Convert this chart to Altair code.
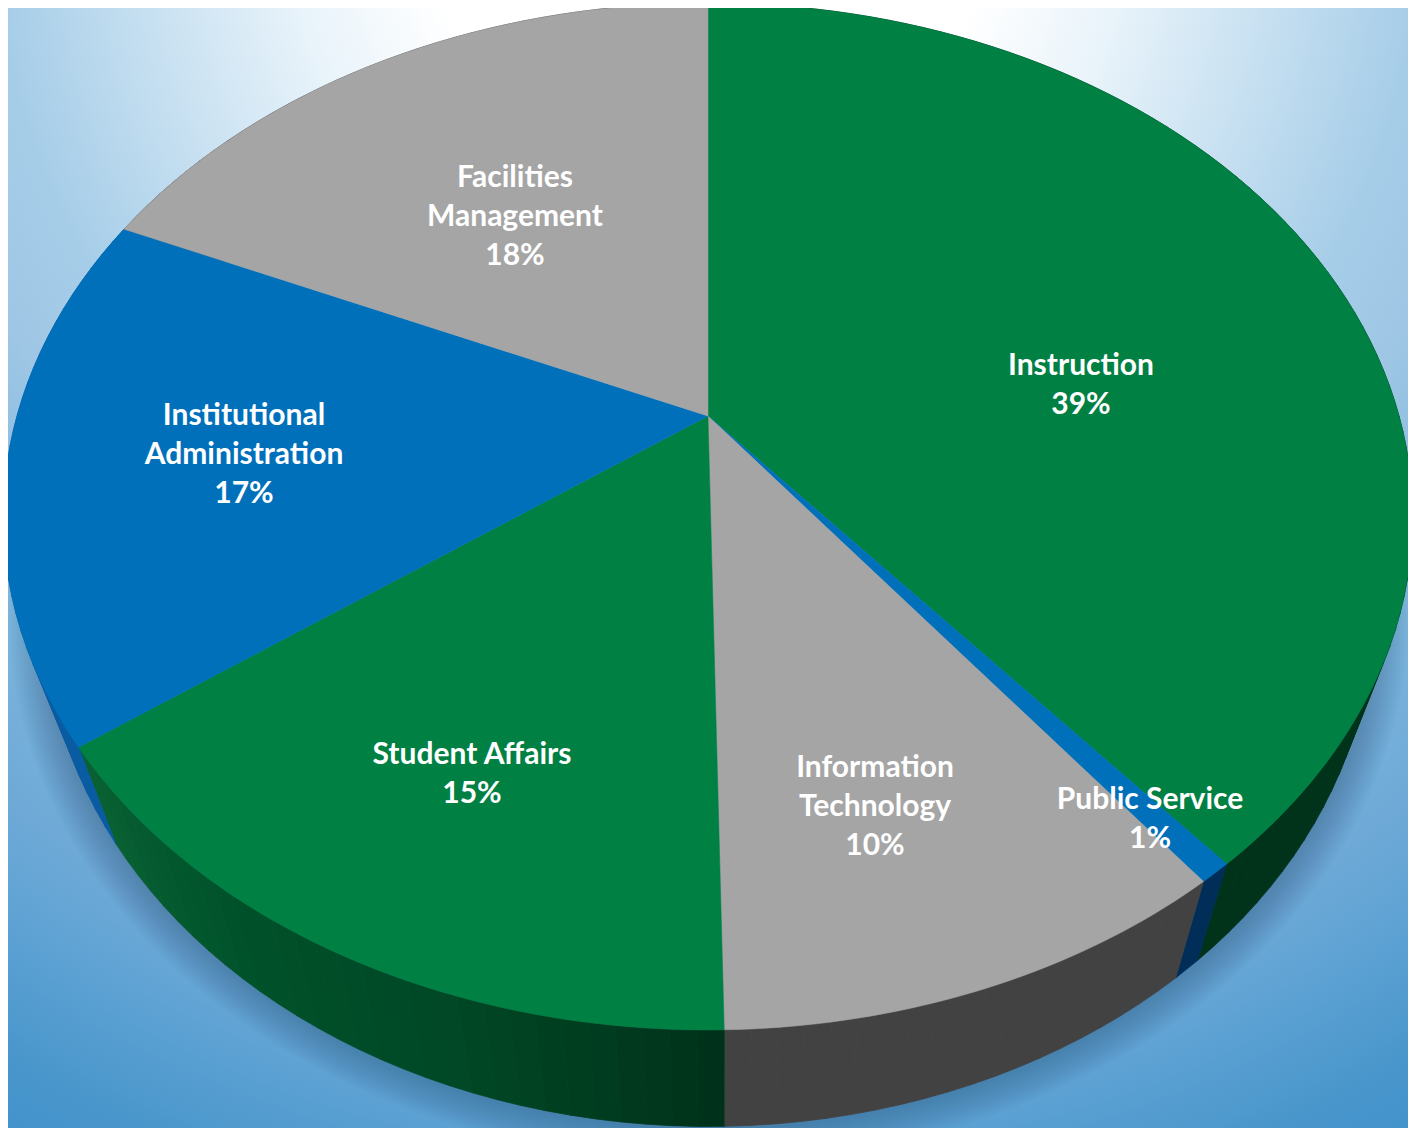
import math
import altair as alt

# ---- values
categories = ["Instruction", "Public Service", "Information Technology", "Student Affairs",
              "Institutional Administration", "Facilities Management"]
shares = [39.0, 0.65, 10.05, 15.2, 16.8, 18.3]
shown_pct = ["39%", "1%", "10%", "15%", "17%", "18%"]
label_lines = [["Instruction"], ["Public Service"], ["Information", "Technology"], ["Student Affairs"],
               ["Institutional", "Administration"], ["Facilities", "Management"]]
top_colors = ["#018044", "#0070BB", "#A5A5A5", "#018044", "#0070BB", "#A5A5A5"]
wall_colors = ["#00331A", "#002E58", "#424242", None, "#0A5CA2", "#555555"]
# Student Affairs side wall darkens from its left edge to the bottom
wall_stops = [(64.9, (10, 98, 52)), (60, (0, 82, 42)), (55, (0, 72, 38)), (52, (0, 60, 31)), (49.7, (0, 49, 26))]
label_anchor = [(1081, 366), (1150, 800), (875, 768), (472, 755), (244, 416), (515, 178)]

# ---- layout
W, H, M = 1400, 1120, 8
CX, CY, R, K, C = 708 - M, 416 - M, 691, 493.8, -0.1957
SHRINK, BX, DROP = 0.942, 722 - M, 96.5
LINE = 39


def rim(p):
    t = 2 * math.pi * p / 100
    u, v = math.sin(t), -math.cos(t)
    d = 1 + C * v
    return [CX + R * u / d, CY + K * v / d]


def low(pt):
    return [BX + (pt[0] - BX) * SHRINK, pt[1] + DROP]


def feature(ring, **props):
    return {"type": "Feature", "properties": props,
            "geometry": {"type": "Polygon", "coordinates": [ring + [ring[0]]]}}


def frange(a, b, step=0.25):
    n = max(2, int(abs(b - a) / step) + 1)
    return [a + (b - a) * i / (n - 1) for i in range(n)]


def hex_of(rgb):
    return "#%02x%02x%02x" % tuple(int(round(c)) for c in rgb)


def sa_wall(p):
    s = sorted(wall_stops)
    for (a, ca), (b, cb) in zip(s, s[1:]):
        if a <= p <= b:
            f = (p - a) / (b - a)
            return hex_of([x + (y - x) * f for x, y in zip(ca, cb)])
    return hex_of(s[-1][1])


edges = [0.0]
for s in shares:
    edges.append(edges[-1] + s)
edges[-1] = 100.0

tops, walls = [], []
for i, cat in enumerate(categories):
    a, b = edges[i], edges[i + 1]
    tops.append(feature([[CX, CY]] + [rim(p) for p in frange(a, b)], fill=top_colors[i], name=cat))
    ps = frange(a, b, 0.5)
    for p, q in zip(ps, ps[1:]):
        col = wall_colors[i] or sa_wall((p + q) / 2)
        walls.append(feature([rim(p), rim(q), low(rim(q)), low(rim(p))], fill=col, name=cat))

base = [low(rim(p)) for p in frange(0, 100, 0.5)]
shadow = [feature(base, w=w) for w in range(72, 0, -5)]

rows = []
for lines, pct, (x, y) in zip(label_lines, shown_pct, label_anchor):
    for j, t in enumerate(lines + [pct]):
        rows.append({"t": t, "x": x - M, "y": y - M + j * LINE})

PROJ = dict(type="identity", scale=1, translate=[0, 0])

gradient = alt.Gradient(
    gradient="radial", x1=0.5, y1=-0.07, r1=0.0, x2=0.5, y2=-0.07, r2=1.0,
    stops=[alt.GradientStop(offset=0.0, color="#ffffff"),
           alt.GradientStop(offset=0.2, color="#ffffff"),
           alt.GradientStop(offset=0.3, color="#e8f3fa"),
           alt.GradientStop(offset=0.51, color="#a6cde8"),
           alt.GradientStop(offset=0.577, color="#9fc7e5"),
           alt.GradientStop(offset=0.71, color="#7cb4dc"),
           alt.GradientStop(offset=0.81, color="#6ea9d7"),
           alt.GradientStop(offset=0.856, color="#63a5d5"),
           alt.GradientStop(offset=0.967, color="#4795cb"),
           alt.GradientStop(offset=1.0, color="#4494cc")],
)

bg = alt.Chart(alt.Data(values=[{"a": 1}])).mark_rect(fill=gradient).encode(
    x=alt.value(0), x2=alt.value(W), y=alt.value(0), y2=alt.value(W))

shadow_l = alt.Chart(alt.Data(values=shadow)).mark_geoshape(
    filled=False, stroke="#2f4a5e", strokeOpacity=0.027, strokeJoin="round"
).encode(strokeWidth=alt.StrokeWidth("properties.w:Q", scale=None)).project(**PROJ)

wall_l = alt.Chart(alt.Data(values=walls)).mark_geoshape(strokeWidth=0.8).encode(
    fill=alt.Fill("properties.fill:N", scale=None),
    stroke=alt.Stroke("properties.fill:N", scale=None)).project(**PROJ)

top_l = alt.Chart(alt.Data(values=tops)).mark_geoshape(strokeWidth=0.5).encode(
    fill=alt.Fill("properties.fill:N", scale=None),
    stroke=alt.Stroke("properties.fill:N", scale=None)).project(**PROJ)

text_l = alt.Chart(alt.Data(values=rows)).mark_text(
    font="Lato", fontWeight="bold", fontSize=30, color="white", baseline="middle", align="center"
).encode(longitude="x:Q", latitude="y:Q", text="t:N").project(**PROJ)

chart = alt.layer(bg, shadow_l, wall_l, top_l, text_l).properties(
    width=W, height=H, padding=0, background="#ffffff"
).configure_view(stroke=None)

chart.save("out.html", embed_options={"renderer": "svg", "actions": False})
